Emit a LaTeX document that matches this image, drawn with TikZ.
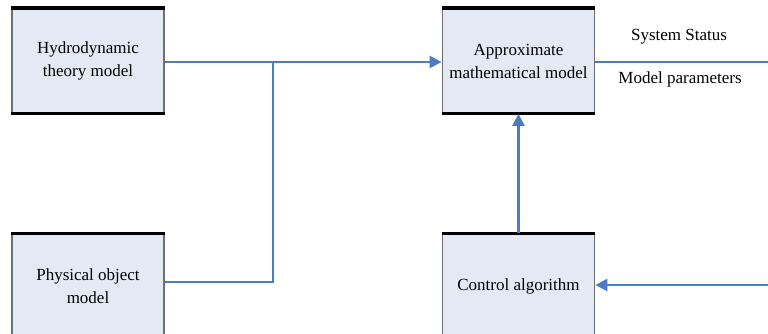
\documentclass[tikz,border=0pt]{standalone}
\usepackage{fontspec}
\setmainfont{Liberation Serif}
\usetikzlibrary{arrows.meta}
\definecolor{boxfill}{HTML}{E4EAF5}
\definecolor{boxedge}{HTML}{6E6E6E}
\definecolor{linkblue}{HTML}{4A7CC6}
\tikzset{
  box/.style={fill=boxfill, draw=boxedge, line width=1.8pt, minimum width=152pt, minimum height=104pt,
    align=center, inner sep=2pt, font=\fontsize{17}{23}\selectfont},
  edgeline/.style={black, line width=3.2pt},
  link/.style={draw=linkblue, line width=2.5pt},
  linkarrow/.style={link, -{Triangle[length=12pt,width=12pt]}},
  lbl/.style={font=\fontsize{17}{20}\selectfont, inner sep=0pt}
}
\begin{document}
\begin{tikzpicture}[x=1pt,y=-1pt]
\useasboundingbox (0,0) rectangle (768,334);
\node[box] (A) at (88,61) {Hydrodynamic\\theory model};
\node[box] (B) at (88,286) {Physical object\\model};
\node[box] (C) at (518.5,61) {Approximate\\mathematical model};
\node[box] (D) at (518.5,286) {Control algorithm};
\foreach \n in {A,B,C,D}{
  \draw[edgeline] (\n.north west) -- (\n.north east);
  \draw[edgeline] (\n.south west) -- (\n.south east);
}
\coordinate (J) at (273,62);
\coordinate (Bout) at (B.east |- 0,282);
\coordinate (Oend) at (768,62);
\coordinate (Iend) at (768,285);
\draw[linkarrow] (A.east |- J) -- (C.west |- J);
\draw[link] (Bout) -| (J);
\draw[linkarrow] (D.north) -- (C.south);
\draw[link] (C.east |- Oend) -- (Oend);
\draw[linkarrow] (Iend) -- (D.east |- Iend);
\node[lbl] (s1) at (679,37) {System Status};
\node[lbl] (s2) at (680,79) {Model parameters};
\end{tikzpicture}
\end{document}
